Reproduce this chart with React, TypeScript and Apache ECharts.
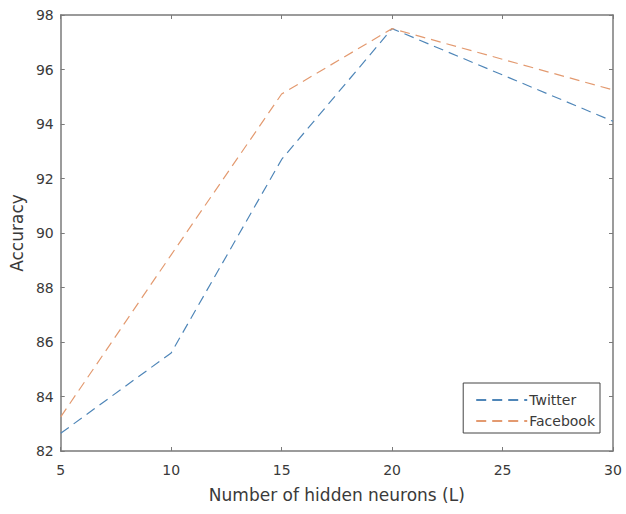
import React, { useEffect, useRef } from "react";
import * as echarts from "echarts";

const neurons = [5, 10, 15, 20, 30];
const twitter = [82.65, 85.6, 92.7, 97.5, 94.1];
const facebook = [83.25, 89.2, 95.1, 97.5, 95.25];
const xTicks = [5, 10, 15, 20, 25, 30];
const yTicks = [82, 84, 86, 88, 90, 92, 94, 96, 98];

const FONT = "'DejaVu Sans', sans-serif";
const AXIS = "#7a7a7a";
const TEXT = "#3a3a3a";

export default function App() {
  const ref = useRef<HTMLDivElement>(null);
  useEffect(() => {
    if (!ref.current) return;
    const chart = echarts.init(ref.current, undefined, { renderer: "svg" });
    const axisCommon = {
      axisLine: { show: true, lineStyle: { color: AXIS, width: 1.5 } },
      axisTick: { show: true, inside: true, length: 4, lineStyle: { color: AXIS } },
      splitLine: { show: false },
    };
    chart.setOption({
      animation: false,
      backgroundColor: "#ffffff",
      textStyle: { fontFamily: FONT },
      grid: { left: 60, top: 15, right: 13, bottom: 63 },
      xAxis: [
        {
          type: "value",
          min: xTicks[0],
          max: xTicks[xTicks.length - 1],
          interval: 5,
          position: "bottom",
          name: "Number of hidden neurons (L)",
          nameLocation: "middle",
          nameGap: 35,
          nameTextStyle: { color: TEXT, fontSize: 17, fontFamily: FONT },
          axisLabel: { color: TEXT, fontSize: 14, margin: 12, fontFamily: FONT },
          ...axisCommon,
        },
        {
          type: "value",
          min: xTicks[0],
          max: xTicks[xTicks.length - 1],
          interval: 5,
          position: "top",
          axisLabel: { show: false },
          ...axisCommon,
        },
      ],
      yAxis: [
        {
          type: "value",
          min: yTicks[0],
          max: yTicks[yTicks.length - 1],
          interval: 2,
          position: "left",
          name: "Accuracy",
          nameLocation: "middle",
          nameGap: 34,
          nameRotate: 90,
          nameTextStyle: { color: TEXT, fontSize: 17, fontFamily: FONT },
          axisLabel: { color: TEXT, fontSize: 14, margin: 7, fontFamily: FONT },
          ...axisCommon,
        },
        {
          type: "value",
          min: yTicks[0],
          max: yTicks[yTicks.length - 1],
          interval: 2,
          position: "right",
          axisLabel: { show: false },
          ...axisCommon,
        },
      ],
      legend: {
        orient: "vertical",
        right: 26,
        top: 383,
        backgroundColor: "#ffffff",
        borderColor: "#444444",
        borderWidth: 1,
        borderRadius: 0,
        padding: [10, 5, 5, 12],
        itemGap: 7,
        itemWidth: 51,
        itemHeight: 14,
        itemStyle: { opacity: 0 },
        textStyle: { color: TEXT, fontSize: 14, fontFamily: FONT, padding: [0, 0, 0, -3] },
        data: ["Twitter", "Facebook"],
      },
      series: [
        {
          name: "Twitter",
          type: "line",
          data: neurons.map((x, i) => [x, twitter[i]]),
          showSymbol: false,
          symbol: "none",
          color: "#4f86b8",
          lineStyle: { color: "#4f86b8", width: 1.2, type: [10, 6] },
        },
        {
          name: "Facebook",
          type: "line",
          data: neurons.map((x, i) => [x, facebook[i]]),
          showSymbol: false,
          symbol: "none",
          color: "#e39a70",
          lineStyle: { color: "#e39a70", width: 1.2, type: [10, 6] },
        },
      ],
    });
    return () => chart.dispose();
  }, []);
  return (
    <div
      ref={ref}
      style={{ position: "absolute", left: 0, top: 0, width: 626, height: 514 }}
    />
  );
}
